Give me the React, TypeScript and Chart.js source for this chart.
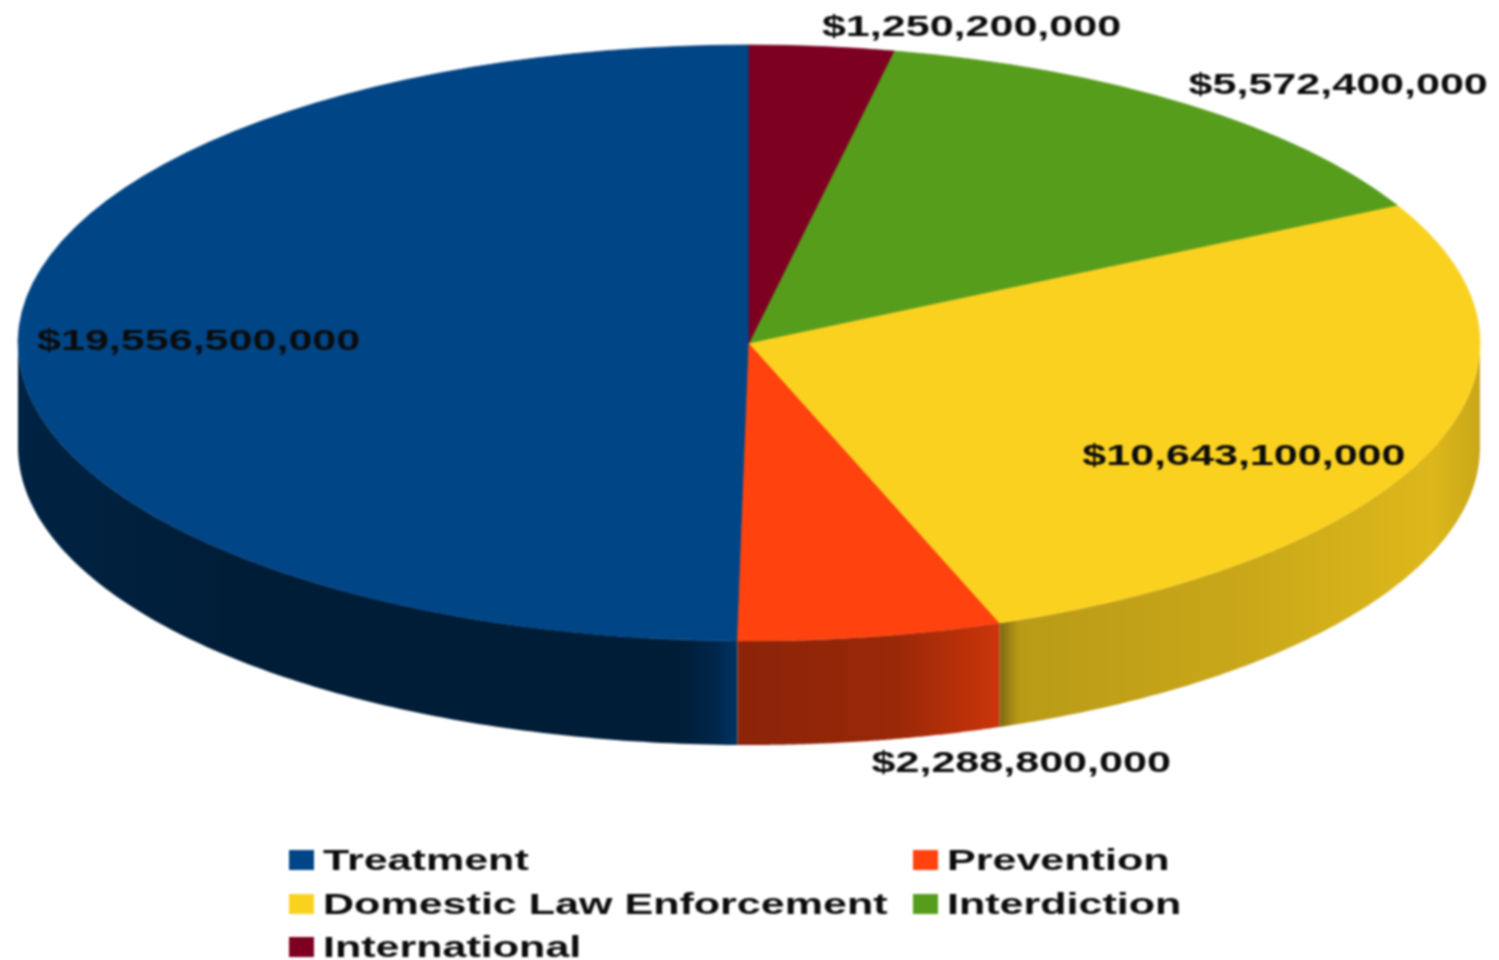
import React, { useEffect, useRef } from "react";
import { Chart, registerables } from "chart.js";

Chart.register(...registerables);

const categories = ["Treatment", "Prevention", "Domestic Law Enforcement", "Interdiction", "International"];
const budget = [19556500000, 2288800000, 10643100000, 5572400000, 1250200000];
const sliceColors = ["#004586", "#ff420e", "#fbd11f", "#579d1c", "#7e0021"];
const labelPlacements = ["insideLeft", "below", "insideRight", "above", "above"];

const WIDTH = 1499;
const HEIGHT = 960;
const RADIUS = 731;
const SQUASH = 298 / 731;
const DEPTH = 104;
const STRETCH = 1.435;
const TEXT_FONT = "bold 30px 'Liberation Sans'";

const wallStops: number[][][] = [
  [[0, 0.5], [0.3, 0.42], [0.92, 0.42], [0.97, 0.55], [1, 0.75]],
  [[0, 0.55], [0.6, 0.6], [1, 0.8]],
  [[0, 0.5], [0.04, 0.74], [0.5, 0.8], [0.9, 0.88], [1, 0.8]],
  [[0, 0.6], [1, 0.6]],
  [[0, 0.6], [1, 0.6]],
];

function shade(hex: string, f: number) {
  const n = parseInt(hex.slice(1), 16);
  const c = [(n >> 16) & 255, (n >> 8) & 255, n & 255].map((v) => Math.round(v * f));
  return `rgb(${c[0]},${c[1]},${c[2]})`;
}

function stretchedText(ctx: CanvasRenderingContext2D, text: string, x: number, y: number, align: string) {
  ctx.save();
  ctx.font = TEXT_FONT;
  ctx.textBaseline = "middle";
  ctx.textAlign = "left";
  ctx.fillStyle = "#0c0c0c";
  const w = ctx.measureText(text).width * STRETCH;
  const left = align === "right" ? x - w : align === "center" ? x - w / 2 : x;
  ctx.translate(left, y);
  ctx.scale(STRETCH, 1);
  ctx.fillText(text, 0, 0);
  ctx.restore();
}

const tiltPlugin = {
  id: "tilt",
  beforeDatasetsDraw(chart: any) {
    const ctx: CanvasRenderingContext2D = chart.ctx;
    const arcs = chart.getDatasetMeta(0).data;
    arcs.forEach((arc: any, i: number) => {
      const { x, y, outerRadius, startAngle, endAngle } = arc.getProps(["x", "y", "outerRadius", "startAngle", "endAngle"], true);
      const a1 = Math.max(startAngle, 0);
      const a2 = Math.min(endAngle, Math.PI);
      if (a2 <= a1) return;
      const px = (a: number) => x - outerRadius * Math.cos(a);
      const py = (a: number) => y + outerRadius * SQUASH * Math.sin(a);
      const steps = 120;
      ctx.beginPath();
      for (let s = 0; s <= steps; s++) {
        const a = a1 + ((a2 - a1) * s) / steps;
        if (s === 0) ctx.moveTo(px(a), py(a));
        else ctx.lineTo(px(a), py(a));
      }
      for (let s = steps; s >= 0; s--) {
        const a = a1 + ((a2 - a1) * s) / steps;
        ctx.lineTo(px(a), py(a) + DEPTH);
      }
      ctx.closePath();
      const g = ctx.createLinearGradient(px(a1), 0, px(a2), 0);
      wallStops[i].forEach(([p, f]) => g.addColorStop(p, shade(sliceColors[i], f)));
      ctx.fillStyle = g;
      ctx.fill();
    });
    ctx.save();
    const { x, y } = arcs[0];
    ctx.translate(x, y);
    ctx.scale(-1, SQUASH);
    ctx.translate(-x, -y);
  },
  afterDatasetsDraw(chart: any) {
    const ctx: CanvasRenderingContext2D = chart.ctx;
    ctx.restore();
    const arcs = chart.getDatasetMeta(0).data;
    arcs.forEach((arc: any, i: number) => {
      const { x, y, outerRadius, startAngle, endAngle } = arc.getProps(["x", "y", "outerRadius", "startAngle", "endAngle"], true);
      const mid = (startAngle + endAngle) / 2;
      const ax = x - outerRadius * Math.cos(mid);
      const ay = y + outerRadius * SQUASH * Math.sin(mid);
      const text = "$" + budget[i].toLocaleString("en-US");
      const place = labelPlacements[i];
      if (place === "insideLeft") stretchedText(ctx, text, ax + 19, ay + 1, "left");
      else if (place === "insideRight") stretchedText(ctx, text, ax - 25, ay + 6, "right");
      else if (place === "below") stretchedText(ctx, text, ax + 1, ay + DEPTH + 23, "left");
      else stretchedText(ctx, text, ax, ay - 19, "left");
    });
    const columns = [289, 913];
    const rows = [860, 904, 947];
    categories.forEach((name, i) => {
      const cx = columns[i % 2];
      const cy = rows[Math.floor(i / 2)];
      ctx.fillStyle = sliceColors[i];
      ctx.fillRect(cx, cy - 10, 25, 20);
      stretchedText(ctx, name, cx + 34, cy + 2, "left");
    });
  },
};

export default function App() {
  const ref = useRef<HTMLCanvasElement>(null);
  useEffect(() => {
    const chart = new Chart(ref.current!, {
      type: "pie",
      data: {
        labels: categories,
        datasets: [
          {
            data: budget,
            backgroundColor: sliceColors,
            borderColor: sliceColors,
            borderWidth: 1,
            clip: false,
          } as any,
        ],
      },
      options: {
        responsive: false,
        animation: false,
        radius: RADIUS,
        layout: { padding: { left: 0, right: 1, top: 0, bottom: 274 } },
        plugins: { legend: { display: false }, title: { display: false }, tooltip: { enabled: false } },
      } as any,
      plugins: [tiltPlugin],
    });
    return () => chart.destroy();
  }, []);
  return (
    <div style={{ position: "absolute", left: 0, top: 0, width: WIDTH, height: HEIGHT, background: "#fff", overflow: "hidden" }}>
      <canvas ref={ref} width={WIDTH} height={HEIGHT} style={{ display: "block", filter: "blur(0.9px)" }} />
    </div>
  );
}
